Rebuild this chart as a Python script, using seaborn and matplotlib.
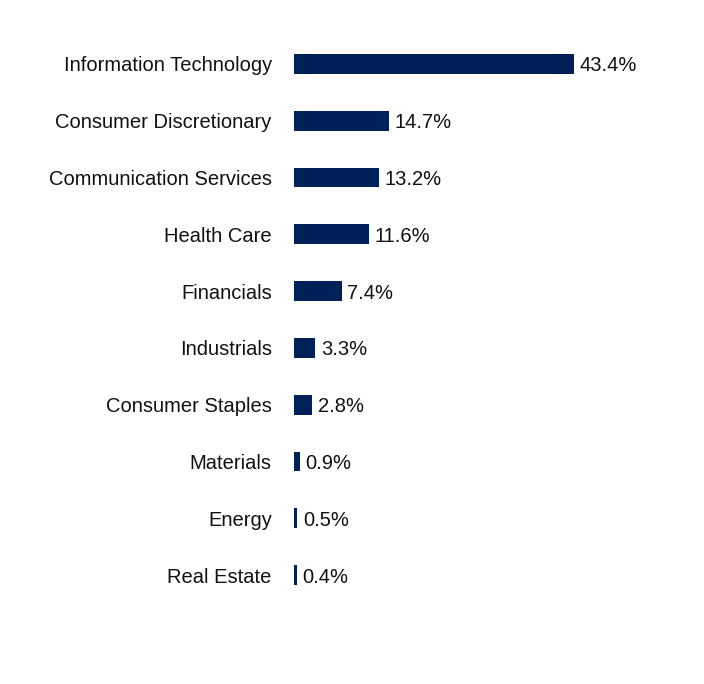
import matplotlib
matplotlib.use("Agg")
import matplotlib.pyplot as plt
import seaborn as sns
import pandas as pd

categories = ["Information Technology", "Consumer Discretionary", "Communication Services",
              "Health Care", "Financials", "Industrials", "Consumer Staples",
              "Materials", "Energy", "Real Estate"]
values = [43.4, 14.7, 13.2, 11.6, 7.4, 3.3, 2.8, 0.9, 0.5, 0.4]
value_labels = ["43.4%", "14.7%", "13.2%", "11.6%", "7.4%", "3.3%", "2.8%", "0.9%", "0.5%", "0.4%"]

sns.set_style("white")
plt.rcParams['font.family'] = ['Liberation Sans', 'DejaVu Sans']

df = pd.DataFrame({"cat": categories, "val": values})

fig = plt.figure(figsize=(7.04, 6.84), dpi=100)
ax = fig.add_axes([294/704, 1 - 603.4/684, 400/704, (603.4 - 35.6)/684])
sns.barplot(data=df, y="cat", x="val", orient="h", color="#002157", width=0.35,
            saturation=1, linewidth=0, ax=ax)
ax.set_xlim(0, 400/6.45)
ax.set_ylim(9.5, -0.5)
for i, (v, lab) in enumerate(zip(values, value_labels)):
    ax.annotate(lab, (v, i), xytext=(4, 0), textcoords="offset points",
                va="center_baseline", ha="left", fontsize=14.5, color="#111111")
ax.set_xlabel("")
ax.set_ylabel("")
ax.set_xticks([])
ax.tick_params(axis="y", length=0, pad=16, labelsize=14.5, labelcolor="#111111")
for t in ax.get_yticklabels():
    t.set_verticalalignment("center_baseline")
for s in ax.spines.values():
    s.set_visible(False)
fig.savefig("out.png", dpi=100)
